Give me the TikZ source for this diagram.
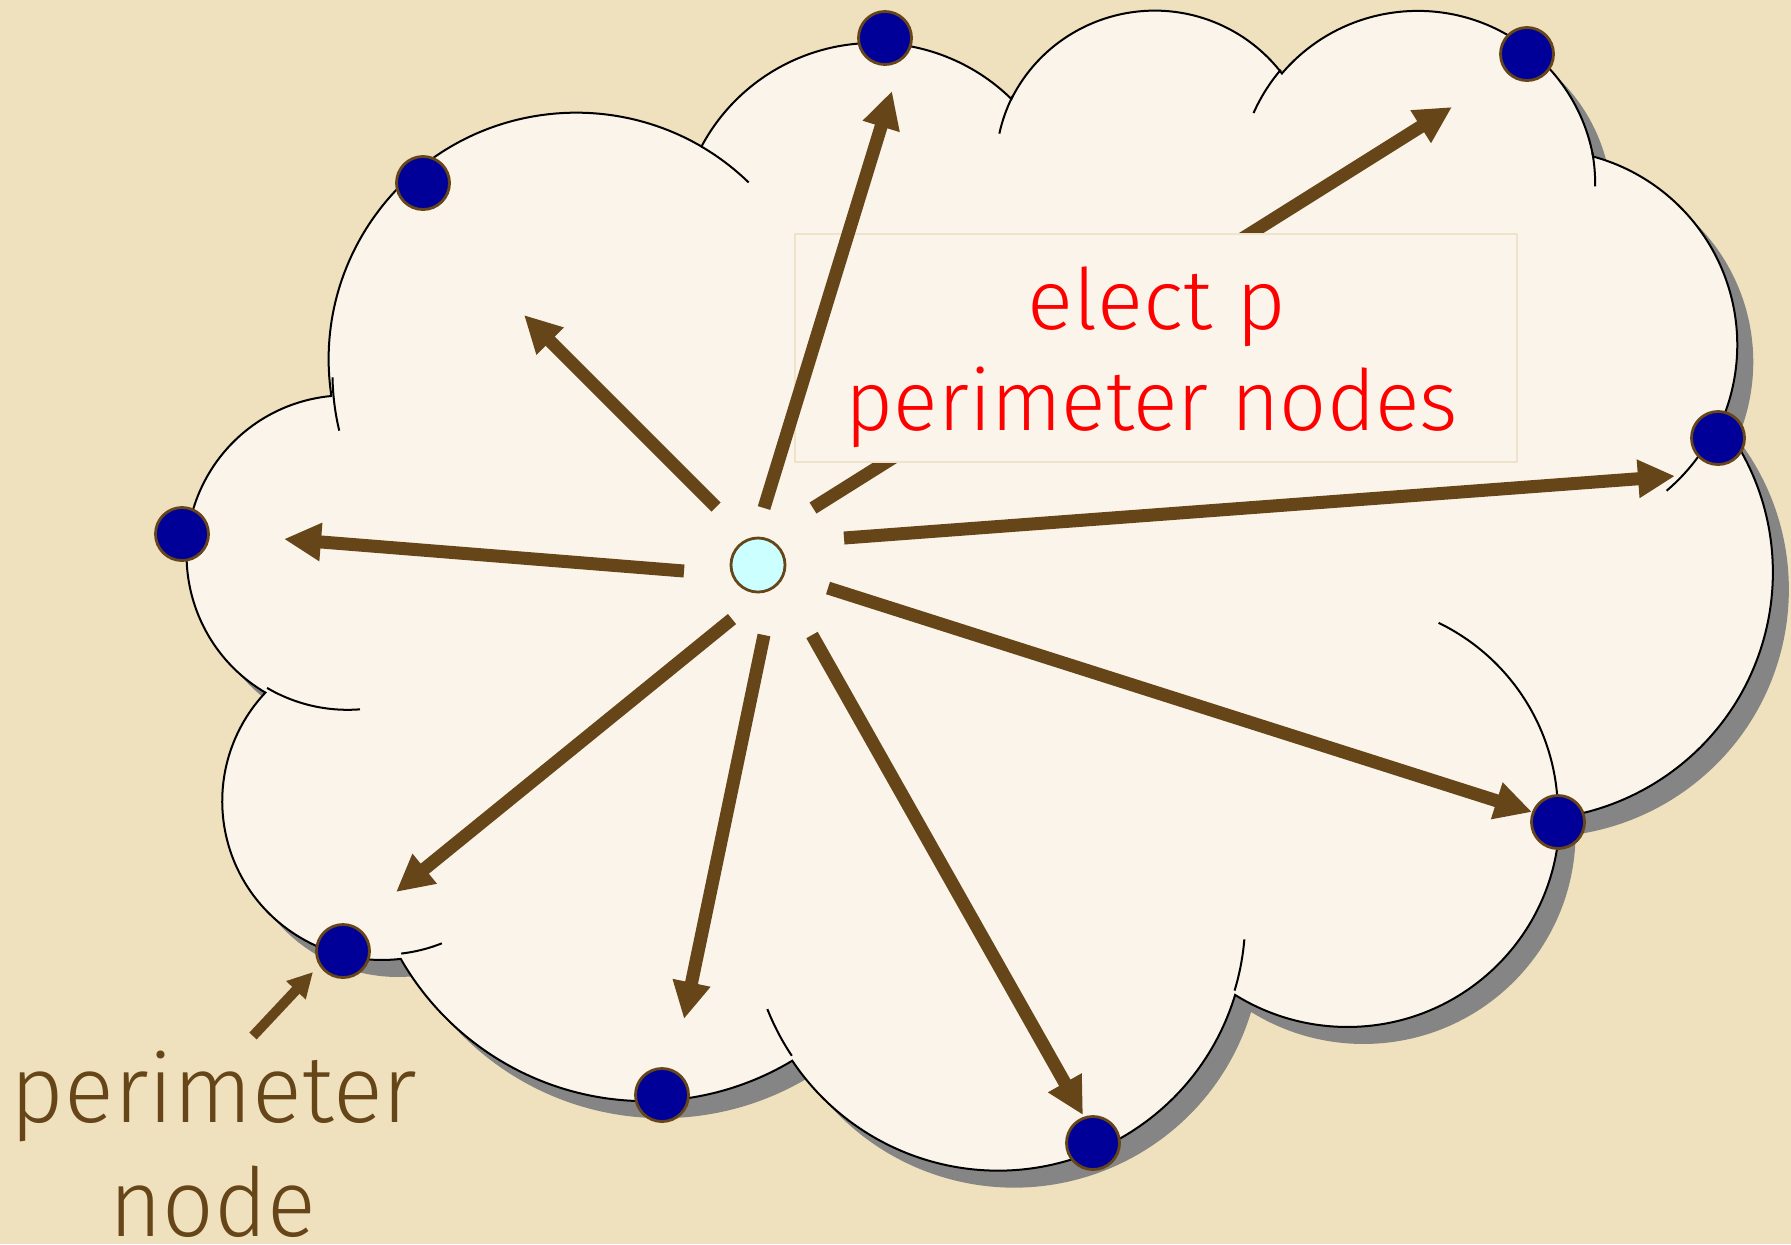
\documentclass[tikz,border=0pt]{standalone}
\usepackage{fontspec}
\setmainfont{Fira Sans Light}
\usepackage{graphicx}
\usetikzlibrary{arrows.meta}
\definecolor{bgc}{HTML}{EFE1BD}
\definecolor{cloudfill}{HTML}{FAF4EA}
\definecolor{shadowc}{HTML}{858585}
\definecolor{arrowc}{HTML}{664619}
\definecolor{nodeblue}{HTML}{000099}
\definecolor{centerc}{HTML}{CCFFFF}
\definecolor{boxline}{HTML}{F0E3CC}
\definecolor{textred}{HTML}{FF0000}

% elliptical arc in OOXML convention: name, wR, hR, start angle, swing angle (visual, y down)
\newcommand\mkarc[5]{%
  \pgfmathsetmacro\cS{atan2((#2)*sin(#4),(#3)*cos(#4))}%
  \pgfmathsetmacro\cE{atan2((#2)*sin((#4)+(#5)),(#3)*cos((#4)+(#5)))}%
  \pgfmathsetmacro\cD{mod((\cE)-(\cS)+720,360)}%
  \pgfmathsetmacro\cA{0-(\cS)}%
  \pgfmathsetmacro\cB{0-(\cS)-(\cD)}%
  \pgfmathsetmacro\cX{(#2)*0.036644}%
  \pgfmathsetmacro\cY{(#3)*0.026829}%
  \edef\cTmp{\noexpand\tikzset{#1/.style={start angle=\cA,end angle=\cB,x radius=\cX cm,y radius=\cY cm}}}%
  \cTmp}
\newcommand\cldpt[2]{({188+(#1)*3.6644},{7+(#2)*2.6829})}

\mkarc{ca1}{67.53}{91.90}{-190.48748}{123.78053}
\mkarc{ca2}{53.33}{72.67}{-144.10238}{89.94523}
\mkarc{ca3}{43.65}{59.45}{-145.80792}{99.72302}
\mkarc{ca4}{48.57}{65.95}{-130.98607}{117.24173}
\mkarc{ca5}{53.33}{72.73}{-78.70888}{109.02692}
\mkarc{ca6}{67.75}{92.20}{-46.26725}{130.269}
\mkarc{ca7}{57.85}{78.67}{0.62502}{114.03333}
\mkarc{ca8}{67.52}{92.15}{22.4516}{115.17255}
\mkarc{ca9}{77.20}{105.43}{66.24263}{75.71102}
\mkarc{ca10}{43.60}{59.18}{-274.94208}{146.73557}
\mkarc{ca11}{43.45}{59.45}{-246.8285}{152.95}

\mkarc{ia1}{43.45}{59.45}{86.742}{26.4295}
\mkarc{ia2}{43.60}{59.18}{73.6105}{11.4475}
\mkarc{ia3}{67.52}{92.15}{137.6242}{14.0811}
\mkarc{ia4}{67.52}{92.15}{6.4533}{15.9984}
\mkarc{ia5}{57.85}{78.67}{-70.2924}{70.9174}
\mkarc{ia6}{53.33}{72.73}{30.318}{27.7515}
\mkarc{ia7}{48.57}{65.95}{-13.7443}{14.8589}
\mkarc{ia8}{48.57}{65.95}{-149.1815}{18.1954}
\mkarc{ia9}{43.65}{59.45}{-163.4943}{17.8877}
\mkarc{ia10}{67.53}{91.90}{-66.707}{12.3194}
\mkarc{ia11}{67.53}{91.90}{162.0373}{16.7106}

\newcommand\cloudshape{\cldpt{39.00}{143.70} arc[ca1] arc[ca2] arc[ca3] arc[ca4] arc[ca5] arc[ca6] arc[ca7] arc[ca8] arc[ca9] arc[ca10] arc[ca11] -- cycle}

\tikzset{
  pnode/.style={circle, fill=nodeblue, draw=arrowc, line width=0.028cm, minimum size=0.53cm, inner sep=0pt},
  cnode/.style={circle, fill=centerc, draw=arrowc, line width=0.028cm, minimum size=0.54cm, inner sep=0pt},
  bigarrow/.style={draw=arrowc, line width=0.13cm, -{Triangle[length=0.37cm,width=0.36cm]}},
  smallarrow/.style={draw=arrowc, line width=0.1cm, -{Triangle[length=0.25cm,width=0.25cm]}},
  cloudline/.style={draw=black, line width=0.02cm},
  boxtext/.style={text=textred, inner sep=0pt, font=\fontsize{24pt}{28pt}\selectfont},
  labeltext/.style={text=arrowc, inner sep=0pt, font=\fontsize{27pt}{32pt}\selectfont},
}

\begin{document}
\begin{tikzpicture}[x=0.01cm, y=-0.01cm]
\useasboundingbox (0,0) rectangle (1791,1244);
\fill[bgc] (0,0) rectangle (1791,1244);

% shadow
\begin{scope}[shift={(16,17)}]
  \fill[shadowc] \cloudshape;
\end{scope}
% cloud
\filldraw[fill=cloudfill, cloudline] \cloudshape;
\draw[cloudline]
  \cldpt{46.93}{261.77} arc[ia1]
  \cldpt{69.28}{348.99} arc[ia2]
  \cldpt{164.78}{390.90} arc[ia3]
  \cldpt{288.27}{347.51} arc[ia4]
  \cldpt{341.29}{229.54} arc[ia5]
  \cldpt{417.98}{153.54} arc[ia6]
  \cldpt{383.24}{54.26} arc[ia7]
  \cldpt{290.78}{39.52} arc[ia8]
  \cldpt{221.41}{47.20} arc[ia9]
  \cldpt{140.00}{51.92} arc[ia10]
  \cldpt{41.27}{157.89} arc[ia11];

% centre node
\node[cnode] (c) at (758,565) {};

% arrow end points
\coordinate (s1) at (716,507);  \coordinate (e1) at (524,315);
\coordinate (s2) at (764,508);  \coordinate (e2) at (892,91);
\coordinate (s3) at (813,508);  \coordinate (e3) at (1452,107);
\coordinate (s4) at (844,538);  \coordinate (e4) at (1675,476);
\coordinate (s5) at (684,571);  \coordinate (e5) at (284,539);
\coordinate (s6) at (828,588);  \coordinate (e6) at (1532,812);
\coordinate (s7) at (732,619);  \coordinate (e7) at (396,892);
\coordinate (s8) at (764,635);  \coordinate (e8) at (684,1019);
\coordinate (s9) at (812,635);  \coordinate (e9) at (1083,1115);

% arrow passing under the text box
\draw[bigarrow] (s3) -- (e3);

% text box
\node[draw=boxline, fill=cloudfill, line width=0.02cm, minimum width=7.21cm, minimum height=2.27cm, inner sep=0pt] (box) at (1156,348) {};
\node[boxtext, anchor=base] (t1) at (1157,329) {\resizebox{2.58cm}{\height}{elect p}};
\node[boxtext, anchor=base] (t2) at (1152,430) {\resizebox{6.12cm}{\height}{perimeter nodes}};

% other arrows
\foreach \i in {1,2,4,5,6,7,8,9} \draw[bigarrow] (s\i) -- (e\i);

% perimeter nodes
\node[pnode] (n1) at (885,38) {};
\node[pnode] (n2) at (1527,54) {};
\node[pnode] (n3) at (423,183) {};
\node[pnode] (n4) at (182,534) {};
\node[pnode] (n5) at (1718,438) {};
\node[pnode] (n6) at (1558,822) {};
\node[pnode] (n7) at (343,951) {};
\node[pnode] (n8) at (662,1095) {};
\node[pnode] (n9) at (1093,1143) {};

% label
\node[labeltext, anchor=base] (l1) at (214,1122) {\resizebox{4.06cm}{\height}{perimeter}};
\node[labeltext, anchor=base] (l2) at (213,1236) {\resizebox{2.06cm}{\height}{node}};
\coordinate (ls) at (253,1036);
\coordinate (lt) at (313,972);
\draw[smallarrow] (ls) -- (lt);
\end{tikzpicture}
\end{document}
